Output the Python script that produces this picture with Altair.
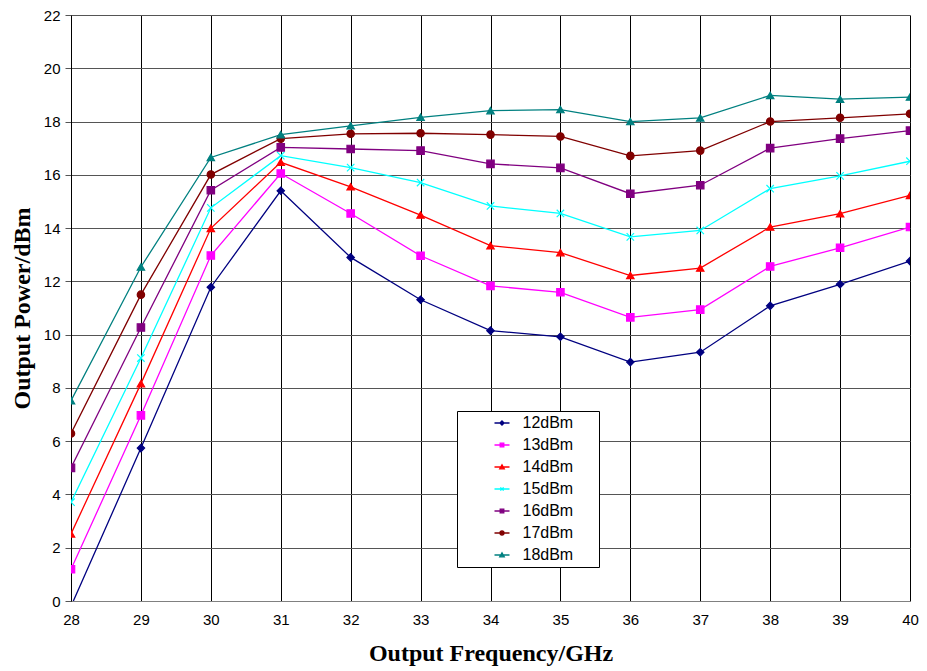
import altair as alt
import pandas as pd

freq = [28, 29, 30, 31, 32, 33, 34, 35, 36, 37, 38, 39, 40]
names = ["12dBm", "13dBm", "14dBm", "15dBm", "16dBm", "17dBm", "18dBm"]
p12 = [-0.2, 5.74, 11.78, 15.40, 12.90, 11.31, 10.15, 9.92, 8.97, 9.34, 11.08, 11.89, 12.76]
p13 = [1.19, 6.97, 12.97, 16.05, 14.55, 12.96, 11.83, 11.59, 10.65, 10.94, 12.56, 13.26, 14.04]
p14 = [2.52, 8.16, 13.99, 16.47, 15.55, 14.49, 13.34, 13.08, 12.22, 12.50, 14.04, 14.54, 15.23]
p15 = [3.71, 9.12, 14.76, 16.72, 16.27, 15.71, 14.83, 14.55, 13.67, 13.91, 15.48, 15.96, 16.51]
p16 = [5.00, 10.27, 15.42, 17.03, 16.97, 16.91, 16.41, 16.26, 15.29, 15.61, 17.00, 17.36, 17.66]
p17 = [6.29, 11.50, 16.01, 17.36, 17.54, 17.56, 17.51, 17.44, 16.71, 16.91, 18.00, 18.14, 18.29]
p18 = [7.52, 12.54, 16.65, 17.51, 17.84, 18.16, 18.41, 18.45, 18.00, 18.14, 18.98, 18.84, 18.92]
series = [p12, p13, p14, p15, p16, p17, p18]
colors = ["#000080", "#FF00FF", "#FF0000", "#00FFFF", "#800080", "#800000", "#008080"]
shapes = ["diamond", "square", "triangle-up", "M-1,-1L1,1M-1,1L1,-1", "square", "circle", "triangle-up"]

# legend symbols: a short line with the series marker on it (unit = sqrt(symbolSize) px)
LINE = "M-1.5,0L1.5,0"
leg_marks = [
    "M0,-0.42L0.42,0L0,0.42L-0.42,0Z",
    "M-0.36,-0.36L0.36,-0.36L0.36,0.36L-0.36,0.36Z",
    "M0,-0.42L0.45,0.36L-0.45,0.36Z",
    "M-0.32,-0.32L0.32,0.32M-0.32,0.32L0.32,-0.32",
    "M-0.36,-0.36L0.36,-0.36L0.36,0.36L-0.36,0.36Z",
    "M-0.4,0A0.4,0.4 0 1,0 0.4,0A0.4,0.4 0 1,0 -0.4,0Z",
    "M0,-0.42L0.45,0.36L-0.45,0.36Z",
]
leg_paths = [LINE + m for m in leg_marks]

rows = []
for n, vals in zip(names, series):
    for f, v in zip(freq, vals):
        rows.append({"freq": f, "power": v, "series": n})
df = pd.DataFrame(rows)

pleg = alt.Legend(
    title="\u00a0", titleOrient="right", titleFontSize=1, titlePadding=25,
    orient="none", legendX=386, legendY=396, padding=1,
    clipHeight=22, rowPadding=0, labelFont="Liberation Sans", labelFontSize=16,
    labelColor="black", symbolSize=100, symbolStrokeWidth=1.3, symbolOpacity=1,
    symbolOffset=36, labelOffset=12.5, fillColor="white", strokeColor="black",
)

x = alt.X("freq:Q", scale=alt.Scale(domain=[28, 40], nice=False),
          axis=alt.Axis(values=freq, title="Output Frequency/GHz", grid=True,
                        gridColor="#000000", gridWidth=1, domainColor="#808080",
                        ticks=False, labelFlush=False, labelPadding=11, titlePadding=14))
y = alt.Y("power:Q", scale=alt.Scale(domain=[0, 22], nice=False),
          axis=alt.Axis(values=list(range(0, 23, 2)), title="Output Power/dBm",
                        grid=True, gridColor="#555555", gridWidth=1,
                        domainColor="#000000", tickColor="#555555", tickSize=6,
                        labelFlush=False, labelPadding=5, titlePadding=9))

lines = alt.Chart(df).mark_line(strokeWidth=1.3, clip=True).encode(
    x=x, y=y,
    color=alt.Color("series:N", scale=alt.Scale(domain=names, range=colors), legend=None),
    order="freq:Q",
)

points = alt.Chart(df).mark_point(filled=True, size=55, strokeWidth=1.2, opacity=1, clip=True).encode(
    x=x, y=y,
    fill=alt.Fill("series:N", scale=alt.Scale(domain=names, range=colors), legend=None),
    stroke=alt.Stroke("series:N", scale=alt.Scale(domain=names, range=colors), legend=None),
    shape=alt.Shape("series:N", scale=alt.Scale(domain=names, range=shapes), legend=None),
)

# legend-only layer (no marks drawn): line + marker symbols
legend_layer = alt.Chart(df).transform_filter("false").mark_point(
    filled=True, size=100, strokeWidth=1.3, opacity=1
).encode(
    x=x, y=y,
    fill=alt.Fill("series:N", scale=alt.Scale(domain=names, range=colors), legend=pleg),
    stroke=alt.Stroke("series:N", scale=alt.Scale(domain=names, range=colors), legend=pleg),
    shape=alt.Shape("series:N", scale=alt.Scale(domain=names, range=leg_paths), legend=pleg),
)

chart = alt.layer(lines, points, legend_layer).resolve_scale(
    fill="independent", stroke="independent", shape="independent", color="independent"
).properties(
    width=839, height=586,
    autosize=alt.AutoSizeParams(type="none"),
    padding={"left": 63, "top": 7, "right": 9, "bottom": 70},
).configure_view(stroke=None).configure_axis(
    labelFont="Liberation Sans", labelFontSize=15, labelColor="black",
    titleFont="Liberation Serif", titleFontSize=24, titleFontWeight="bold",
    titleColor="black",
)

chart.save("out.html", embed_options={"renderer": "svg", "actions": False})
